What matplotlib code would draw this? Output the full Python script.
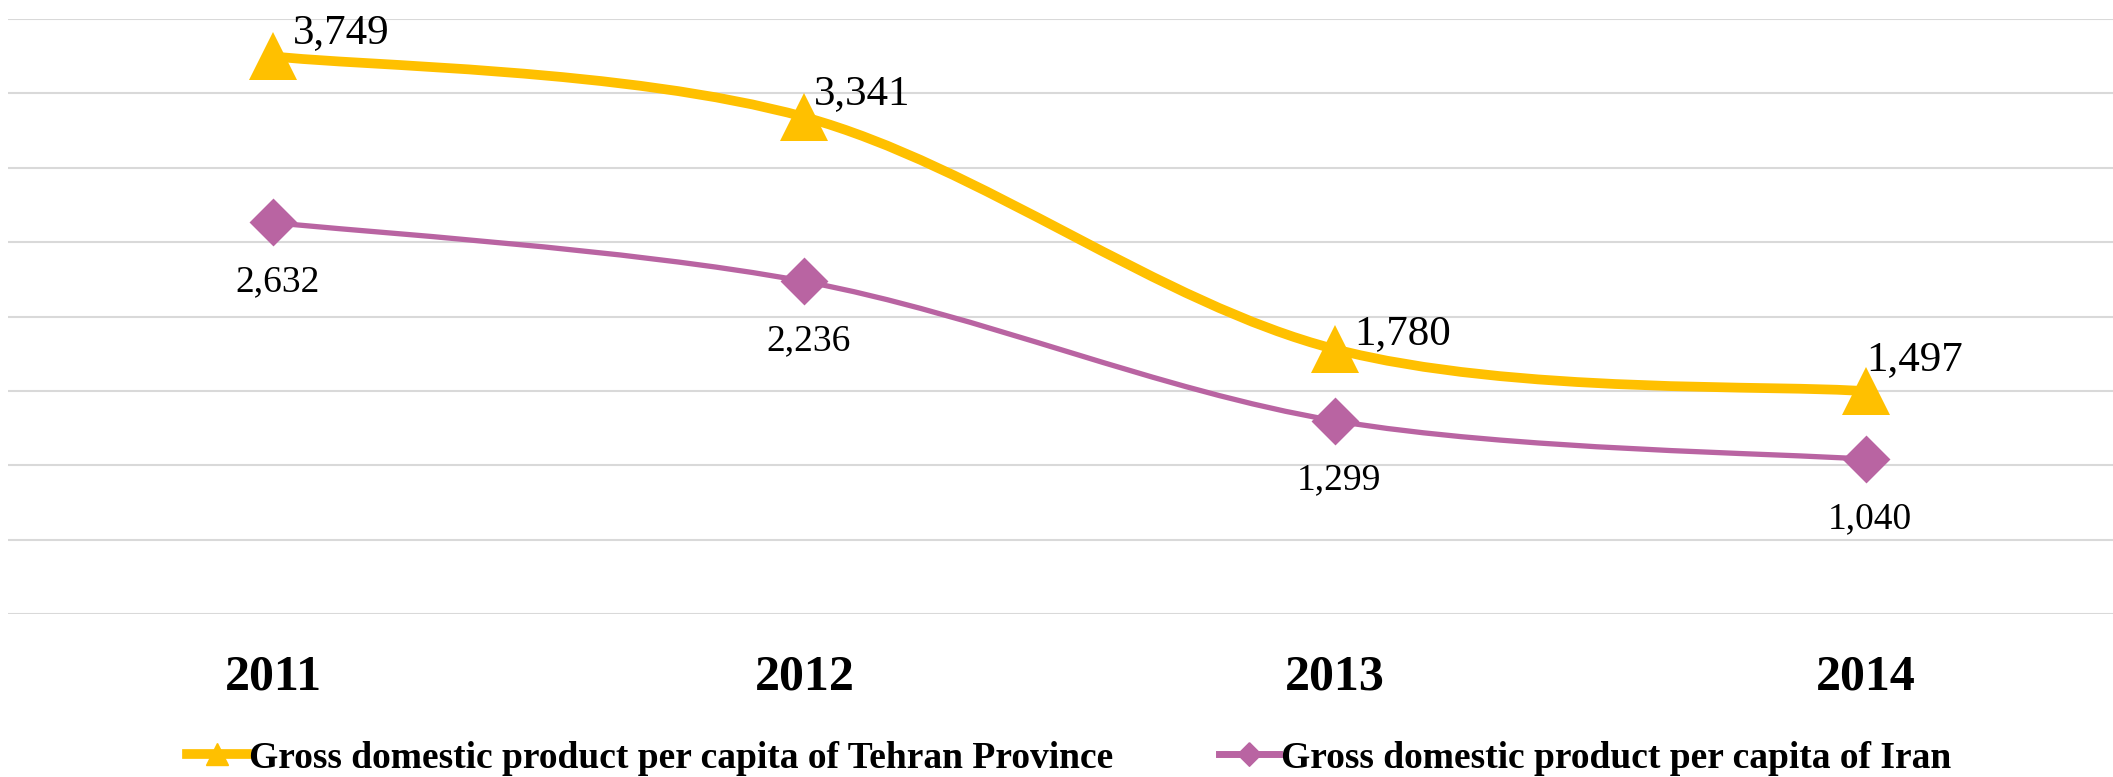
# coding: utf-8

import numpy as np
import matplotlib.pyplot as plt
from matplotlib.path import Path
from matplotlib.patches import PathPatch
from matplotlib.lines import Line2D

##############################
# データ
##############################
years = ['2011', '2012', '2013', '2014']
tehran_gdp = [3749, 3341, 1780, 1497]
iran_gdp = [2632, 2236, 1299, 1040]

tehran_name = 'Gross domestic product per capita of Tehran Province'
iran_name = 'Gross domestic product per capita of Iran'

# 色
YELLOW = '#FFC000'
PURPLE = '#B964A2'
GRID = '#D9D9D9'

plt.rcParams['font.family'] = ['Liberation Serif', 'DejaVu Serif']


##############################
# Excel風のなめらかな線 (Catmull-Rom -> Bezier)
##############################
def smooth_path(x, y):
    pts = np.column_stack([x, y]).astype(float)
    n = len(pts)
    verts = [pts[0]]
    codes = [Path.MOVETO]
    for i in range(n - 1):
        p0 = pts[max(i - 1, 0)]
        p1 = pts[i]
        p2 = pts[i + 1]
        p3 = pts[min(i + 2, n - 1)]
        c1 = p1 + (p2 - p0) / 6.0
        c2 = p2 - (p3 - p1) / 6.0
        verts += [c1, c2, p2]
        codes += [Path.CURVE4] * 3
    return Path(verts, codes)


# マーカー形状 (ひし形)
dia_marker = [(0.0, 1.0), (1.0, 0.0), (0.0, -1.0), (-1.0, 0.0), (0.0, 1.0)]

W, H = 2113, 777
fig = plt.figure(figsize=(W / 100, H / 100), dpi=100)
ax = fig.add_axes([8 / W, 1 - 614 / H, (W - 8) / W, (614 - 19) / H])

x = np.arange(len(years))

# 目盛り線
ax.set_ylim(0, 4000)
ax.set_xlim(-0.5, 3.465)
ax.set_yticks(np.arange(0, 4001, 500))
ax.grid(axis='y', color=GRID, linewidth=1.5)
ax.set_axisbelow(True)
for s in ax.spines.values():
    s.set_visible(False)
ax.tick_params(axis='y', left=False, labelleft=False)
ax.tick_params(axis='x', bottom=False, pad=26)
ax.set_xticks(x)
ax.set_xticklabels(years, fontsize=36, fontweight='bold')

# 線
ax.add_patch(PathPatch(smooth_path(x, tehran_gdp), facecolor='none',
                       edgecolor=YELLOW, linewidth=7, capstyle='round', zorder=3))
ax.add_patch(PathPatch(smooth_path(x, iran_gdp), facecolor='none',
                       edgecolor=PURPLE, linewidth=3.8, capstyle='round', zorder=3))

# マーカー
ax.plot(x, tehran_gdp, linestyle='none', marker='^', markersize=34.5,
        color=YELLOW, markeredgewidth=0, zorder=4)
ax.plot(x, iran_gdp, linestyle='none', marker=dia_marker, markersize=34.5,
        color=PURPLE, markeredgewidth=0, zorder=4)

# データラベル
tehran_offsets = [(13.7, 9.4), (7.2, 9.4), (13.7, 3.6), (0, 15)]
for xi, v, off in zip(x, tehran_gdp, tehran_offsets):
    ax.annotate('{:,}'.format(v), (xi, v), xytext=off, textcoords='offset points',
                ha='left', va='baseline', fontsize=31, zorder=5)
for xi, v in zip(x, iran_gdp):
    ax.annotate('{:,}'.format(v), (xi, v), xytext=(3, -49.5), textcoords='offset points',
                ha='center', va='baseline', fontsize=27, zorder=5)

# 凡例
handles = [
    Line2D([], [], color=YELLOW, linewidth=7, marker='^', markersize=16.5),
    Line2D([], [], color=PURPLE, linewidth=5, marker=dia_marker, markersize=17),
]
fig.legend(handles, [tehran_name, iran_name], loc='center left',
           bbox_to_anchor=(187 / W, 1 - 758 / H), ncol=2, frameon=False,
           prop={'size': 27, 'weight': 'bold'}, handlelength=1.6,
           handletextpad=0.06, columnspacing=2.8, borderpad=0, borderaxespad=0)

fig.savefig('out.png', dpi=100)
plt.close()
